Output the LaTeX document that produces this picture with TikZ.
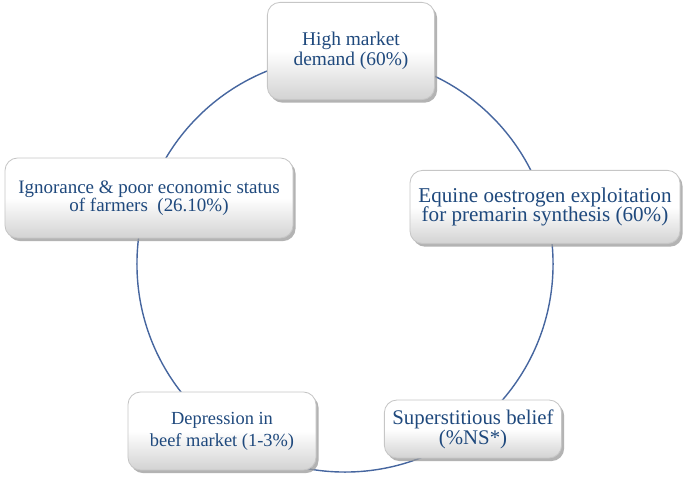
\documentclass[tikz,border=0pt]{standalone}
\usepackage{fontspec}
\setmainfont{Liberation Serif}
\usetikzlibrary{shadows}
\definecolor{txtblue}{HTML}{1F497D}
\definecolor{ringblue}{HTML}{46669F}
\begin{document}
\begin{tikzpicture}[x=0.025cm, y=-0.025cm,
    factor/.style={rounded corners=9pt, draw=gray!45, line width=0.6pt,
      top color=white, bottom color=gray!35, middle color=white,
      drop shadow={shadow xshift=1.8pt, shadow yshift=-2.2pt, fill=gray!80, opacity=.75},
      text=txtblue, align=center, inner sep=0pt},
    fs/.style 2 args={font=\fontsize{#1}{#2}\selectfont}]
      \useasboundingbox (0, 0) rectangle (685, 478);
      \coordinate (ring) at (345, 264);
      \draw[ringblue, line width=1pt] (ring) circle [radius=5.2cm];
      % the five factors round the ring
      \node[factor, fs={13.8}{14.5}, minimum width=4.18cm, minimum height=2.43cm] (demand) at (351, 51)
            {High market\\demand (60\%)};
      \node[factor, fs={15}{13.8}, minimum width=6.75cm, minimum height=1.83cm] (equine) at (545, 207)
            {Equine oestrogen exploitation\\for premarin synthesis (60\%)};
      \node[factor, fs={14.8}{14.2}, minimum width=4.43cm, minimum height=1.45cm] (belief) at (473, 429)
            {Superstitious belief\\(\%NS*)};
      \node[factor, fs={13.1}{15.6}, minimum width=4.7cm, minimum height=1.95cm] (beef) at (222, 431)
            {Depression in\\beef market (1-3\%)};
      \node[factor, fs={13.5}{13}, minimum width=7.2cm, minimum height=2cm] (poor) at (149, 198)
            {Ignorance \& poor economic status\\of farmers\ \ (26.10\%)};
\end{tikzpicture}
\end{document}
